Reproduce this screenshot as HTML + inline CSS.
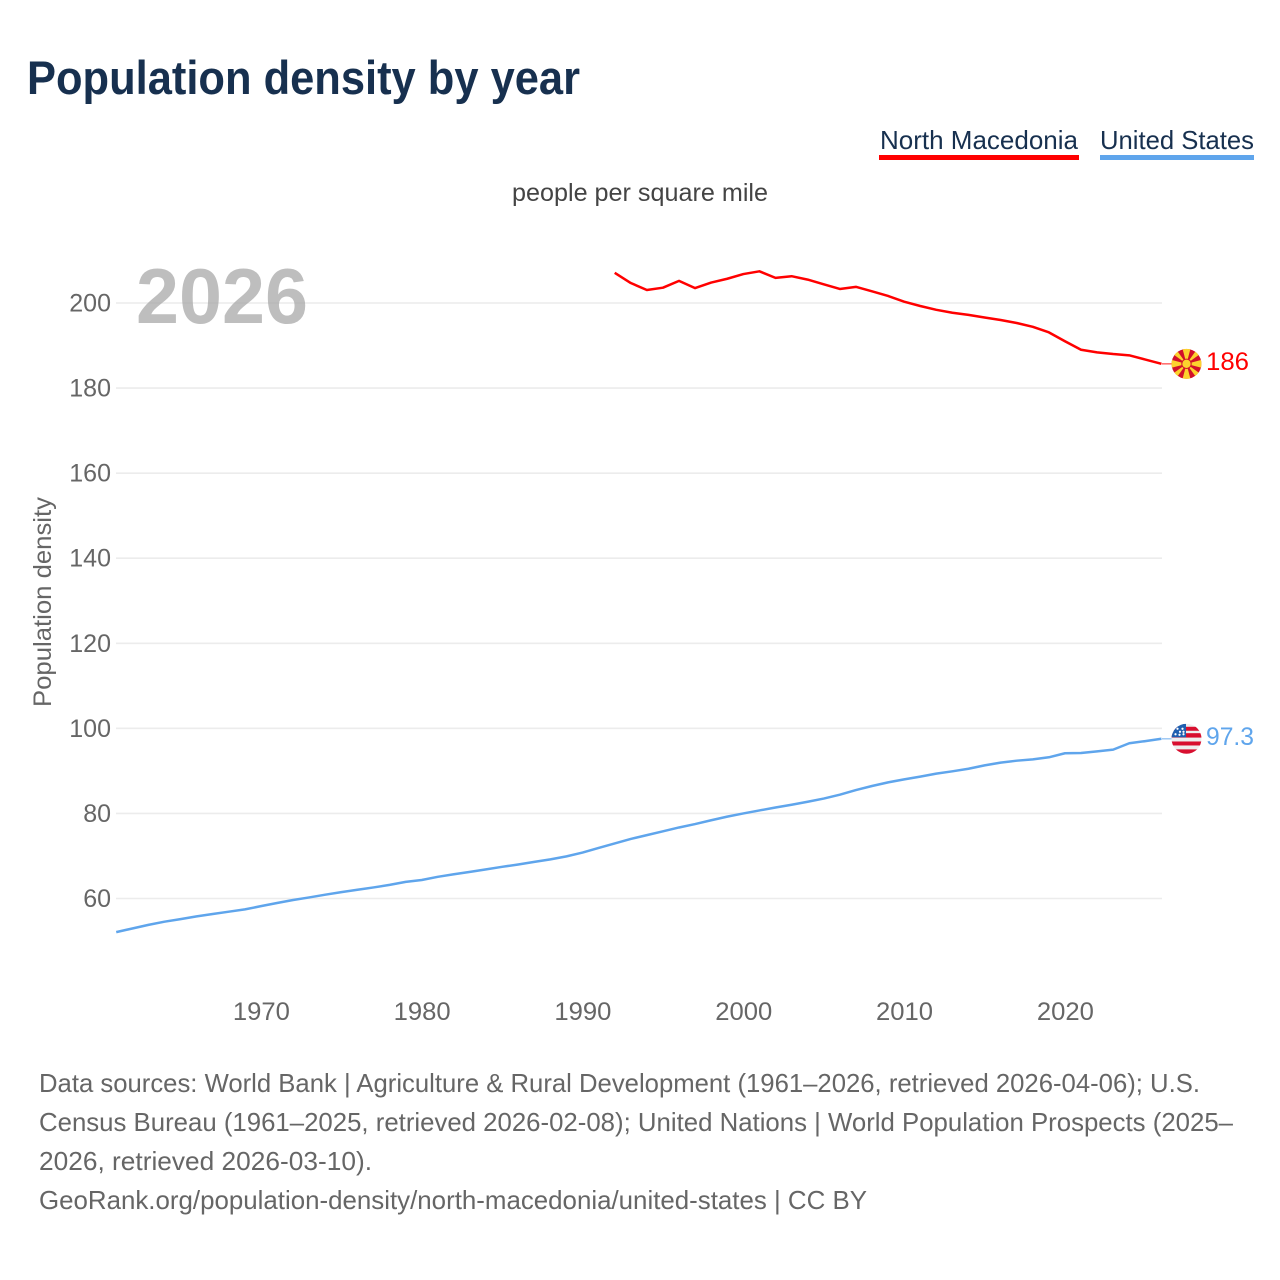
<!DOCTYPE html>
<html lang="en">
<head>
<meta charset="utf-8">
<title>Population density by year</title>
<style>
html,body{margin:0;padding:0;background:#fff;width:1280px;height:1280px;overflow:hidden}
svg{display:block}
text{font-family:"Liberation Sans",sans-serif}
</style>
</head>
<body>
<svg id="chart" xmlns="http://www.w3.org/2000/svg" width="1280" height="1280" viewBox="0 0 1280 1280">
  <defs>
    <clipPath id="flag-clip"><circle cx="0" cy="0" r="15"></circle></clipPath>
  </defs>
  <rect x="0" y="0" width="1280" height="1280" fill="#fff"></rect>

  <text x="27" y="94" font-size="47" font-weight="700" fill="#17304f" textLength="553" lengthAdjust="spacingAndGlyphs">Population density by year</text>

  <g>
    <text x="880" y="149" font-size="26" fill="#17304f" textLength="198" lengthAdjust="spacingAndGlyphs">North Macedonia</text>
    <rect x="879" y="155" width="200" height="5" fill="#ff0000"></rect>
    <text x="1100" y="149" font-size="26" fill="#17304f" textLength="154" lengthAdjust="spacingAndGlyphs">United States</text>
    <rect x="1100" y="155" width="154" height="5" fill="#5fa5ec"></rect>
  </g>

  <text x="512" y="201" font-size="25" fill="#444" textLength="256" lengthAdjust="spacingAndGlyphs">people per square mile</text>
  <text x="0" y="0" transform="translate(51,707) rotate(-90)" font-size="25" fill="#666" textLength="210" lengthAdjust="spacingAndGlyphs">Population density</text>

  <g id="grid"></g>
  <g id="y-ticks"></g>
  <g id="x-ticks"></g>

  <text x="136" y="323" font-size="78" font-weight="700" fill="#a8a8a8" fill-opacity="0.75" textLength="172" lengthAdjust="spacingAndGlyphs">2026</text>

  <g id="series"></g>

  <g id="flag-mk">
    <g clip-path="url(#flag-clip)">
      <circle cx="0" cy="0" r="15" fill="#d2102a"></circle>
      <g fill="#fcd22e">
        <polygon points="0,0 -4.2,-16 4.2,-16"></polygon>
        <polygon points="0,0 -4.2,-16 4.2,-16" transform="rotate(90)"></polygon>
        <polygon points="0,0 -4.2,-16 4.2,-16" transform="rotate(180)"></polygon>
        <polygon points="0,0 -4.2,-16 4.2,-16" transform="rotate(270)"></polygon>
        <polygon points="0,0 -3.6,-22 3.6,-22" transform="rotate(45)"></polygon>
        <polygon points="0,0 -3.6,-22 3.6,-22" transform="rotate(135)"></polygon>
        <polygon points="0,0 -3.6,-22 3.6,-22" transform="rotate(225)"></polygon>
        <polygon points="0,0 -3.6,-22 3.6,-22" transform="rotate(315)"></polygon>
      </g>
      <circle cx="0" cy="0" r="5.2" fill="#d2102a"></circle>
      <circle cx="0" cy="0" r="4.2" fill="#fcd22e"></circle>
    </g>
  </g>

  <g id="flag-us">
    <g clip-path="url(#flag-clip)">
      <rect x="-15" y="-15" width="30" height="30" fill="#eeeeee"></rect>
      <g fill="#d80f2f">
        <rect x="-15" y="-12" width="30" height="4"></rect>
        <rect x="-15" y="-5.6" width="30" height="4.4"></rect>
        <rect x="-15" y="2.7" width="30" height="4"></rect>
        <rect x="-15" y="10.6" width="30" height="4.6"></rect>
      </g>
      <rect x="-15" y="-15" width="14.5" height="13.5" fill="#1f5fb0"></rect>
      <g fill="#fff">
        <circle cx="-9" cy="-10" r="1.1"></circle>
        <circle cx="-4" cy="-10" r="1.1"></circle>
        <circle cx="-6.5" cy="-7" r="1.1"></circle>
        <circle cx="-11" cy="-4.5" r="1.1"></circle>
        <circle cx="-7" cy="-4" r="1.1"></circle>
        <circle cx="-3" cy="-4.5" r="1.1"></circle>
        <circle cx="-3" cy="-7" r="1.1"></circle>
      </g>
    </g>
  </g>

  <text id="value-mk" x="1206" y="370" font-size="25" fill="#ff0000" textLength="43" lengthAdjust="spacingAndGlyphs"></text>
  <text id="value-us" x="1206" y="745" font-size="25" fill="#5fa5ec" textLength="48" lengthAdjust="spacingAndGlyphs"></text>

  <g font-size="26" fill="#666">
    <text x="39" y="1092" textLength="1161" lengthAdjust="spacingAndGlyphs">Data sources: World Bank | Agriculture &amp; Rural Development (1961–2026, retrieved 2026-04-06); U.S.</text>
    <text x="39" y="1131" textLength="1194" lengthAdjust="spacingAndGlyphs">Census Bureau (1961–2025, retrieved 2026-02-08); United Nations | World Population Prospects (2025–</text>
    <text x="39" y="1170" textLength="333" lengthAdjust="spacingAndGlyphs">2026, retrieved 2026-03-10).</text>
    <text x="39" y="1209" textLength="828" lengthAdjust="spacingAndGlyphs">GeoRank.org/population-density/north-macedonia/united-states | CC BY</text>
  </g>
</svg>

<script>
const yTickValues = [60, 80, 100, 120, 140, 160, 180, 200];
const xTickYears = [1970, 1980, 1990, 2000, 2010, 2020];

const usYears = [1961,1962,1963,1964,1965,1966,1967,1968,1969,1970,1971,1972,1973,1974,1975,1976,1977,1978,1979,1980,1981,1982,1983,1984,1985,1986,1987,1988,1989,1990,1991,1992,1993,1994,1995,1996,1997,1998,1999,2000,2001,2002,2003,2004,2005,2006,2007,2008,2009,2010,2011,2012,2013,2014,2015,2016,2017,2018,2019,2020,2021,2022,2023,2024,2025,2026];
const usValues = [52.1,52.95,53.8,54.55,55.15,55.8,56.35,56.9,57.45,58.2,58.95,59.65,60.25,60.9,61.5,62.05,62.6,63.2,63.9,64.35,65.1,65.7,66.25,66.85,67.45,68.0,68.6,69.2,69.9,70.8,71.9,72.95,74.0,74.9,75.8,76.7,77.5,78.4,79.25,80.0,80.7,81.4,82.05,82.75,83.5,84.4,85.5,86.45,87.3,88.0,88.65,89.35,89.9,90.5,91.3,91.95,92.4,92.7,93.2,94.15,94.2,94.6,95.0,96.5,97.0,97.55];

const mkYears = [1992,1993,1994,1995,1996,1997,1998,1999,2000,2001,2002,2003,2004,2005,2006,2007,2008,2009,2010,2011,2012,2013,2014,2015,2016,2017,2018,2019,2020,2021,2022,2023,2024,2025,2026];
const mkValues = [207.1,204.7,203.06,203.6,205.2,203.5,204.8,205.7,206.8,207.45,205.9,206.3,205.5,204.4,203.3,203.8,202.75,201.65,200.3,199.3,198.4,197.7,197.2,196.6,196.0,195.3,194.4,193.1,191.0,189.0,188.4,188.0,187.7,186.7,185.7];

const mkEndLabel = "186";
const usEndLabel = "97.3";

const NS = "http://www.w3.org/2000/svg";
const xScale = function (year) { return 260.95 + (year - 1970) * 16.08; };
const yScale = function (value) { return 303 + (200 - value) * 4.2536; };
const PLOT_LEFT = 116;
const PLOT_RIGHT = 1162;

function svgEl(tag, attrs) {
  const el = document.createElementNS(NS, tag);
  for (const k in attrs) el.setAttribute(k, attrs[k]);
  return el;
}

const grid = document.getElementById("grid");
const yTicks = document.getElementById("y-ticks");
yTickValues.forEach(function (v) {
  const line = svgEl("line", {x1: PLOT_LEFT, x2: PLOT_RIGHT, y1: yScale(v), y2: yScale(v), stroke: "#ececec", "stroke-width": 1.6});
  
  
  grid.appendChild(line);
  const label = svgEl("text", {x: 111, y: yScale(v) + 8.5, "text-anchor": "end", "font-size": 25, fill: "#666"});
  
  
  label.textContent = String(v);
  yTicks.appendChild(label);
});

const xTicks = document.getElementById("x-ticks");
xTickYears.forEach(function (yr) {
  const label = svgEl("text", {x: xScale(yr) + 0.4, y: 1020, "text-anchor": "middle", "font-size": 25, fill: "#666", textLength: 57, lengthAdjust: "spacingAndGlyphs"});
  
  
  label.textContent = String(yr);
  xTicks.appendChild(label);
});

function pathFor(years, values) {
  return years.map(function (yr, i) {
    return (i ? "L" : "M") + xScale(yr).toFixed(2) + " " + yScale(values[i]).toFixed(2);
  }).join(" ");
}

const series = document.getElementById("series");

const mkLine = svgEl("path", {d: pathFor(mkYears, mkValues), fill: "none", stroke: "#ff0000", "stroke-width": 2.5, "stroke-linejoin": "round"});


series.appendChild(mkLine);

const usLine = svgEl("path", {d: pathFor(usYears, usValues), fill: "none", stroke: "#5fa5ec", "stroke-width": 2.5, "stroke-linejoin": "round"});


series.appendChild(usLine);

const mkEndY = yScale(mkValues[mkValues.length - 1]);
const usEndY = yScale(usValues[usValues.length - 1]);

const mkTail = svgEl("line", {x1: PLOT_RIGHT, x2: 1172, y1: mkEndY, y2: mkEndY, stroke: "#ff0000", "stroke-opacity": 0.6, "stroke-width": 1.5});


series.appendChild(mkTail);

const usTail = svgEl("line", {x1: PLOT_RIGHT, x2: 1172, y1: usEndY, y2: usEndY, stroke: "#5fa5ec", "stroke-opacity": 0.6, "stroke-width": 1.5});


series.appendChild(usTail);

document.getElementById("flag-mk").setAttribute("transform", "translate(1186.5," + mkEndY.toFixed(2) + ")");
document.getElementById("flag-us").setAttribute("transform", "translate(1186.5," + usEndY.toFixed(2) + ")");

const mkValueLabel = document.getElementById("value-mk");
mkValueLabel.textContent = mkEndLabel;
mkValueLabel.setAttribute("y", (mkEndY + 6).toFixed(2));
const usValueLabel = document.getElementById("value-us");
usValueLabel.textContent = usEndLabel;
usValueLabel.setAttribute("y", (usEndY + 6).toFixed(2));
</script>
</body>
</html>
